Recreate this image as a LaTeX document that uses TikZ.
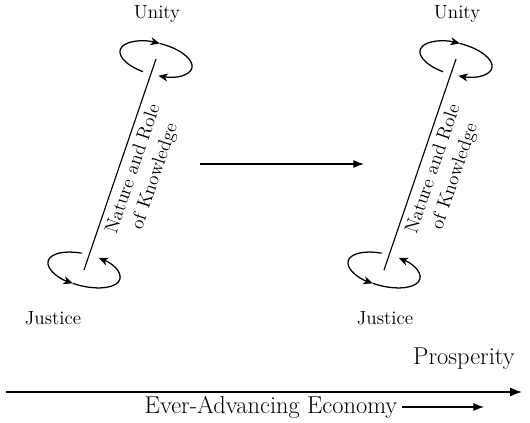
\documentclass[tikz,border=0pt]{standalone}
\usepackage{tikz}
\usetikzlibrary{arrows.meta,positioning,calc}
\tikzset{
    cyc/.style={line width=0.95pt, -{Stealth[length=7pt,width=6pt,inset=2pt]}},
    axis/.style={line width=0.85pt},
    flow/.style={line width=0.95pt, -{Latex[length=8pt,width=6pt]}},
    big/.style={line width=1.3pt, -{Latex[length=9pt,width=7pt]}},
    word/.style={font=\fontsize{14.3}{17}\selectfont},
    bigword/.style={font=\fontsize{18.3}{21}\selectfont}
}
\begin{document}
\begin{tikzpicture}[x=0.75pt,y=0.75pt]
    \useasboundingbox (0,0) rectangle (530,422);

    % Left cycle
    \coordinate (topA) at (156,363);
    \coordinate (botA) at (84,152);
    \draw [axis] (botA) -- node [word, rotate=71.2, anchor=north, align=center, inner sep=4pt] (knowA) {Nature and Role\\of Knowledge} (topA);
    \begin{scope}[shift={(topA)}, rotate=-14]
        \draw [cyc] (255:37 and 16) arc [start angle=255, end angle=90, x radius=37, y radius=16];
        \draw [cyc] (90:37 and 16) arc [start angle=90, end angle=-80, x radius=37, y radius=16];
    \end{scope}
    \begin{scope}[shift={(botA)}, rotate=-14]
        \draw [cyc] (100:37 and 16) arc [start angle=100, end angle=258, x radius=37, y radius=16];
        \draw [cyc] (258:37 and 16) arc [start angle=258, end angle=432, x radius=37, y radius=16];
    \end{scope}
    \node [word] (unityA) at (157,408) {Unity};
    \node [word] (justiceA) at (53,104) {Justice};

    % Right cycle
    \coordinate (topB) at (456,363);
    \coordinate (botB) at (384,152);
    \draw [axis] (botB) -- node [word, rotate=71.2, anchor=north, align=center, inner sep=4pt] (knowB) {Nature and Role\\of Knowledge} (topB);
    \begin{scope}[shift={(topB)}, rotate=-14]
        \draw [cyc] (255:37 and 16) arc [start angle=255, end angle=90, x radius=37, y radius=16];
        \draw [cyc] (90:37 and 16) arc [start angle=90, end angle=-80, x radius=37, y radius=16];
    \end{scope}
    \begin{scope}[shift={(botB)}, rotate=-14]
        \draw [cyc] (100:37 and 16) arc [start angle=100, end angle=258, x radius=37, y radius=16];
        \draw [cyc] (258:37 and 16) arc [start angle=258, end angle=432, x radius=37, y radius=16];
    \end{scope}
    \node [word] (unityB) at (457,408) {Unity};
    \node [word] (justiceB) at (385,104) {Justice};

    % Advance between the two
    \coordinate (fromA) at (200,258);
    \coordinate (toB) at (364,258);
    \draw [flow] (fromA) -- (toB);

    % Prosperity axis
    \coordinate (axisL) at (6,30);
    \coordinate (axisR) at (522,30);
    \draw [big] (axisL) -- (axisR);
    \node [bigword, anchor=south east, inner sep=0pt] (prosp) at (515,52) {Prosperity};
    \node [bigword, anchor=east] (econ) at (402,15) {Ever-Advancing Economy};
    \coordinate (econEnd) at (484,15);
    \draw [flow, line width=0.8pt] (econ) -- (econEnd);
\end{tikzpicture}
\end{document}
